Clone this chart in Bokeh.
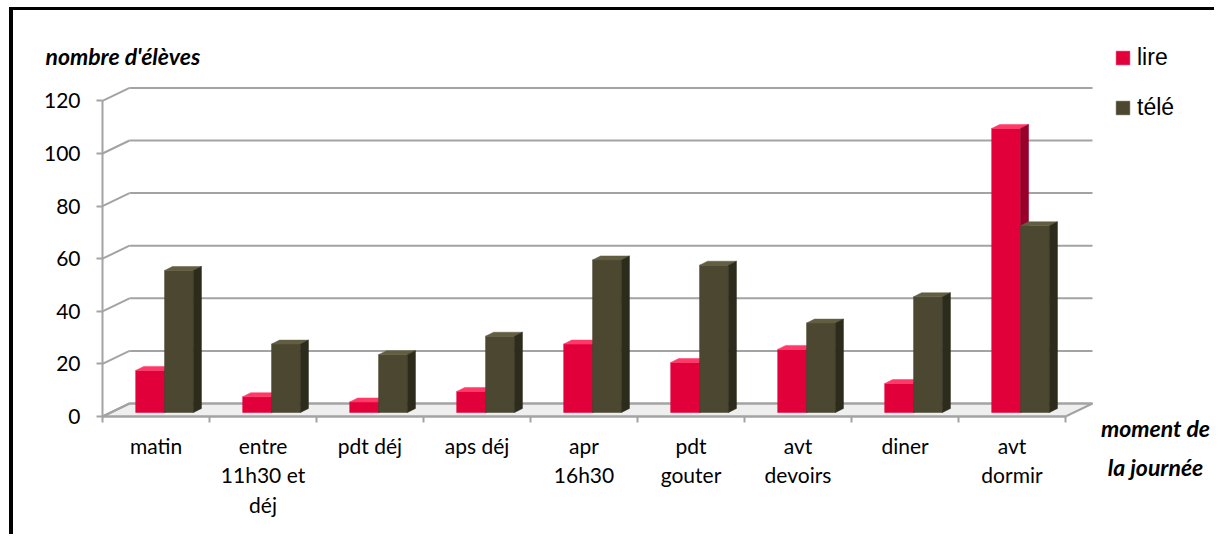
from bokeh.plotting import figure
from bokeh.models import Range1d, FixedTicker, Legend, LegendItem, Label, ColumnDataSource
from bokeh.embed import file_html
from bokeh.resources import INLINE

# ---------------- data ----------------
categories = ["matin", "entre\n11h30 et\ndéj", "pdt déj", "aps déj", "apr\n16h30",
              "pdt\ngouter", "avt\ndevoirs", "diner", "avt\ndormir"]
lire = [16, 6, 4, 8, 26, 19, 24, 11, 108]
tele = [54, 26, 22, 29, 58, 56, 34, 44, 71]
y_ticks = [0, 20, 40, 60, 80, 100, 120]
series_names = ["lire", "télé"]
y_title = "nombre d'élèves"
x_title = ["moment de", "la journée"]

# ---------------- geometry (page pixels) ----------------
MARGIN_L, MARGIN_T = 9, 7
BORDER_L, BORDER_T = 4, 3
OX, OY = MARGIN_L + BORDER_L, MARGIN_T + BORDER_T   # canvas origin on page
W, H = 1218 - OX, 538 - OY - 1
AX_X, AX_Y = 102, 416                   # front axes corner on page
CAT_W = 107.0                           # px per category
PXU = 2.63                              # px per value unit
DX, DY = 27 / CAT_W, 13 / PXU           # back wall depth offset (data units)
SX, SY = 8 / CAT_W, 4 / PXU             # bar side depth (data units)
BASE = 4 / PXU                          # bar base above front floor edge
BAR_W = 0.27
OFFS = [-0.19, 0.08]                    # left edge of each series' front face
x0 = -0.5
n = len(categories)


def px_to_x(px):
    return x0 + (px - AX_X) / CAT_W


def py_to_y(py):
    return (AX_Y - py) / PXU


FONT = "Lato"

p = figure(width=W, height=H, output_backend="svg", toolbar_location=None, title=None,
           x_range=Range1d(px_to_x(OX), px_to_x(OX + W)),
           y_range=Range1d(py_to_y(OY + H), py_to_y(OY)),
           min_border_left=0, min_border_bottom=0, min_border_top=0, min_border_right=0)
p.styles = {"border-left": f"{BORDER_L}px solid black",
            "border-top": f"{BORDER_T}px solid black",
            "margin-left": f"{MARGIN_L}px", "margin-top": f"{MARGIN_T}px"}
p.outline_line_color = None
p.xgrid.visible = False
p.ygrid.visible = False
p.background_fill_color = "white"
p.border_fill_color = "white"

GRID = "#a3a3a3"

# floor
xl, xr = x0, x0 + n
p.patch([xl, xr, xr + DX, xl + DX], [0, 0, DY, DY],
        fill_color="#efefef", line_color=GRID, line_width=2)

# back wall gridlines and left wall diagonals
p.segment(x0=[xl + DX] * len(y_ticks), y0=[t + DY for t in y_ticks],
          x1=[xr + DX] * len(y_ticks), y1=[t + DY for t in y_ticks],
          line_color=GRID, line_width=2)
p.segment(x0=[xl] * len(y_ticks), y0=y_ticks,
          x1=[xl + DX] * len(y_ticks), y1=[t + DY for t in y_ticks],
          line_color=GRID, line_width=2)

styles = [
    dict(front="#e2003b", side="#96002b", topc="#ff3a68"),
    dict(front="#4b4730", side="#2d2b1b", topc="#625e42"),
]
renderers = []
for s, vals in enumerate([lire, tele]):
    st = styles[s]
    lefts = [i + OFFS[s] for i in range(n)]
    rights = [l + BAR_W for l in lefts]
    tops = [BASE + v for v in vals]
    src = ColumnDataSource(dict(left=lefts, right=rights, bottom=[BASE] * n, top=tops))
    r = p.quad(left="left", right="right", bottom="bottom", top="top", source=src,
               fill_color=st["front"], line_color=st["front"], line_width=0.5)
    renderers.append(r)
    # top faces
    p.patches(xs=[[l, rr, rr + SX, l + SX] for l, rr in zip(lefts, rights)],
              ys=[[t, t, t + SY, t + SY] for t in tops],
              fill_color=st["topc"], line_color=st["topc"], line_width=0.5)
    # side faces
    p.patches(xs=[[rr, rr + SX, rr + SX, rr] for rr in rights],
              ys=[[BASE, BASE + SY, t + SY, t] for t in tops],
              fill_color=st["side"], line_color=st["side"], line_width=0.5)

# axes (placed inside the frame at the front corner)
ya = p.yaxis[0]
ya.fixed_location = x0
ya.ticker = FixedTicker(ticks=y_ticks)
ya.bounds = (0, max(y_ticks))
ya.axis_line_color = GRID
ya.axis_line_width = 2
ya.major_tick_line_color = GRID
ya.major_tick_line_width = 2
ya.major_tick_out = 6
ya.major_tick_in = 0
ya.minor_tick_line_color = None
ya.major_label_text_font = FONT
ya.major_label_text_font_size = "21px"
ya.major_label_text_color = "black"
ya.major_label_standoff = 16

xa = p.xaxis[0]
xa.fixed_location = 0
xa.ticker = FixedTicker(ticks=list(range(n)), minor_ticks=[i - 0.5 for i in range(n + 1)])
xa.bounds = (x0, x0 + n)
xa.major_label_overrides = {i: c for i, c in enumerate(categories)}
xa.axis_line_color = GRID
xa.axis_line_width = 2
xa.major_tick_line_color = None
xa.major_tick_out = 0
xa.major_tick_in = 0
xa.minor_tick_line_color = GRID
xa.minor_tick_line_width = 2
xa.minor_tick_out = 6
xa.minor_tick_in = 0
xa.major_label_text_font = FONT
xa.major_label_text_font_size = "21px"
xa.major_label_text_color = "black"
xa.major_label_text_line_height = 1.19
xa.major_label_standoff = 10

# titles
p.add_layout(Label(x=px_to_x(45), y=py_to_y(55), text=y_title, text_font=FONT,
                   text_font_size="23px", text_font_style="bold italic",
                   text_baseline="middle", text_align="left", text_color="black"))
for ty, txt in zip([427, 466], x_title):
    p.add_layout(Label(x=px_to_x(1155), y=py_to_y(ty), text=txt, text_font=FONT,
                       text_font_size="23px", text_font_style="bold italic",
                       text_baseline="middle", text_align="center", text_color="black"))

# legend
legend = Legend(items=[LegendItem(label=series_names[i], renderers=[renderers[i]]) for i in range(2)],
                location=(1114 - OX, (OY + H) - 121),
                glyph_width=17, glyph_height=17, label_height=17, spacing=23,
                label_standoff=6, padding=0, margin=0,
                label_text_font="Liberation Sans", label_text_font_size="23px",
                label_text_color="black", border_line_color=None,
                background_fill_alpha=0)
p.add_layout(legend)

open("out.html", "w").write(file_html(p, INLINE))
